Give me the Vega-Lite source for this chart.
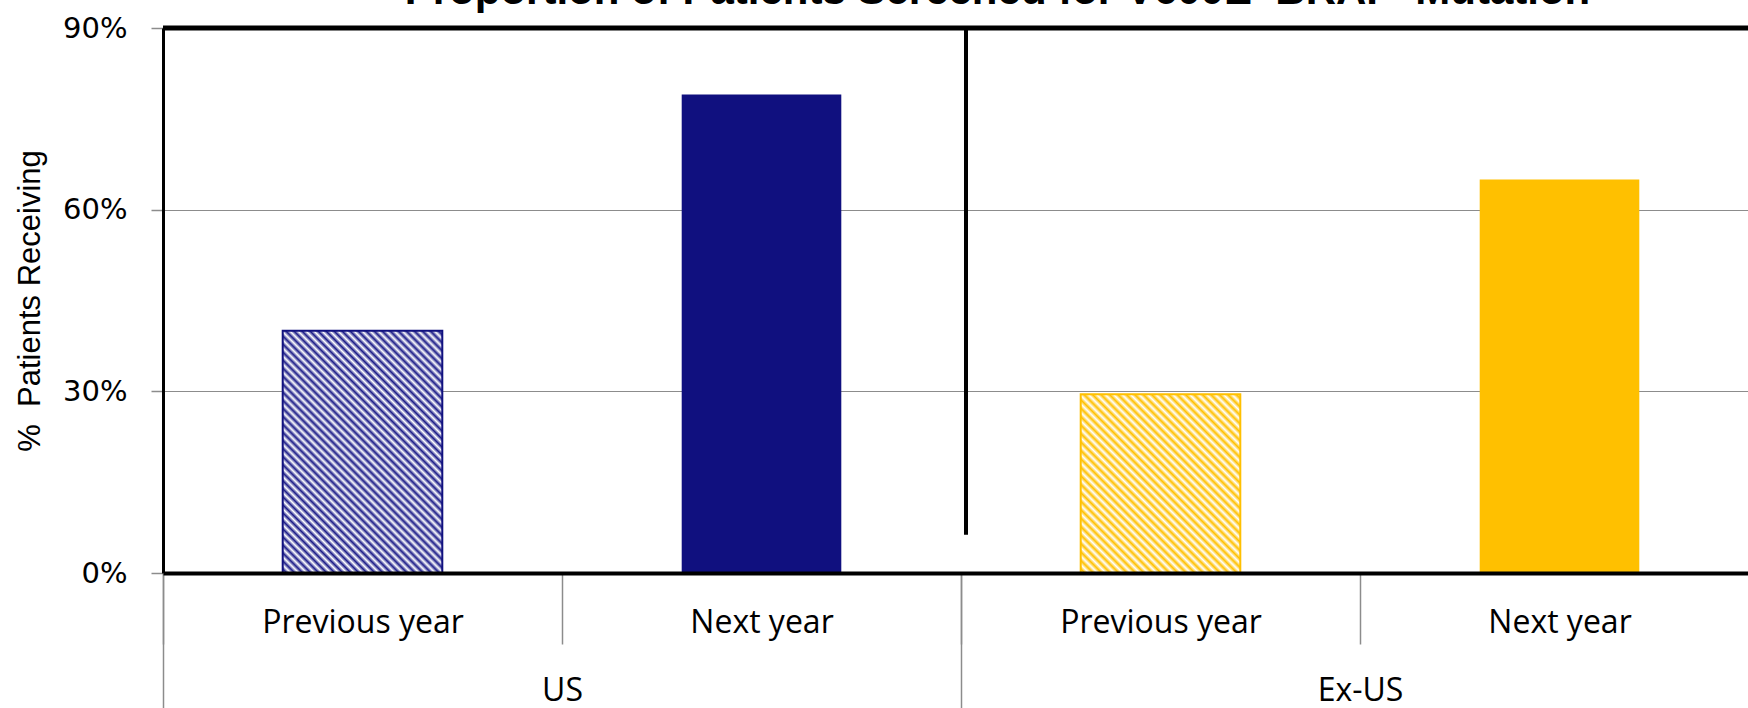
{
  "$schema": "https://vega.github.io/schema/vega-lite/v6.json",
  "autosize": {"type": "none"},
  "padding": {"left": 163, "top": 28, "right": 0, "bottom": 135},
  "width": 1585,
  "height": 545,
  "background": "white",
  "config": {"view": {"stroke": null}},
  "title": {
    "text": "Proportion of Patients Screened for V600E\u00a0 BRAF\u00a0 Mutation",
    "font": "Liberation Sans",
    "fontSize": 42,
    "fontWeight": "bold",
    "color": "black",
    "anchor": "middle",
    "dx": 42,
    "dy": 32,
    "baseline": "alphabetic",
    "offset": 0
  },
  "datasets": {
    "bars": [
      {"key": "US|Previous year", "region": "US", "period": "Previous year", "pct": 0.40},
      {"key": "US|Next year", "region": "US", "period": "Next year", "pct": 0.79},
      {"key": "Ex-US|Previous year", "region": "Ex-US", "period": "Previous year", "pct": 0.295},
      {"key": "Ex-US|Next year", "region": "Ex-US", "period": "Next year", "pct": 0.65}
    ],
    "topline": [{"level": 0.9}],
    "divider": [{"region": "Ex-US", "top": 0.9, "bottom": 0.063}]
  },
  "layer": [
    {
      "layer": [
        {
          "data": {"name": "bars"},
          "transform": [{"filter": "datum.key == 'US|Previous year'"}],
          "mark": {
            "type": "bar",
            "width": {"band": 0.4},
            "stroke": "#10107F",
            "strokeWidth": 2,
            "fill": {
              "gradient": "linear",
              "x1": 0, "y1": 1, "x2": 0.7622, "y2": -0.1567,
              "stops": [
                {"offset": 0, "color": "#ffffff"}, {"offset": 0.01, "color": "#1c1c88"},
                {"offset": 0.02, "color": "#ffffff"}, {"offset": 0.03, "color": "#1c1c88"},
                {"offset": 0.04, "color": "#ffffff"}, {"offset": 0.05, "color": "#1c1c88"},
                {"offset": 0.06, "color": "#ffffff"}, {"offset": 0.07, "color": "#1c1c88"},
                {"offset": 0.08, "color": "#ffffff"}, {"offset": 0.09, "color": "#1c1c88"},
                {"offset": 0.10, "color": "#ffffff"}, {"offset": 0.11, "color": "#1c1c88"},
                {"offset": 0.12, "color": "#ffffff"}, {"offset": 0.13, "color": "#1c1c88"},
                {"offset": 0.14, "color": "#ffffff"}, {"offset": 0.15, "color": "#1c1c88"},
                {"offset": 0.16, "color": "#ffffff"}, {"offset": 0.17, "color": "#1c1c88"},
                {"offset": 0.18, "color": "#ffffff"}, {"offset": 0.19, "color": "#1c1c88"},
                {"offset": 0.20, "color": "#ffffff"}, {"offset": 0.21, "color": "#1c1c88"},
                {"offset": 0.22, "color": "#ffffff"}, {"offset": 0.23, "color": "#1c1c88"},
                {"offset": 0.24, "color": "#ffffff"}, {"offset": 0.25, "color": "#1c1c88"},
                {"offset": 0.26, "color": "#ffffff"}, {"offset": 0.27, "color": "#1c1c88"},
                {"offset": 0.28, "color": "#ffffff"}, {"offset": 0.29, "color": "#1c1c88"},
                {"offset": 0.30, "color": "#ffffff"}, {"offset": 0.31, "color": "#1c1c88"},
                {"offset": 0.32, "color": "#ffffff"}, {"offset": 0.33, "color": "#1c1c88"},
                {"offset": 0.34, "color": "#ffffff"}, {"offset": 0.35, "color": "#1c1c88"},
                {"offset": 0.36, "color": "#ffffff"}, {"offset": 0.37, "color": "#1c1c88"},
                {"offset": 0.38, "color": "#ffffff"}, {"offset": 0.39, "color": "#1c1c88"},
                {"offset": 0.40, "color": "#ffffff"}, {"offset": 0.41, "color": "#1c1c88"},
                {"offset": 0.42, "color": "#ffffff"}, {"offset": 0.43, "color": "#1c1c88"},
                {"offset": 0.44, "color": "#ffffff"}, {"offset": 0.45, "color": "#1c1c88"},
                {"offset": 0.46, "color": "#ffffff"}, {"offset": 0.47, "color": "#1c1c88"},
                {"offset": 0.48, "color": "#ffffff"}, {"offset": 0.49, "color": "#1c1c88"},
                {"offset": 0.50, "color": "#ffffff"}, {"offset": 0.51, "color": "#1c1c88"},
                {"offset": 0.52, "color": "#ffffff"}, {"offset": 0.53, "color": "#1c1c88"},
                {"offset": 0.54, "color": "#ffffff"}, {"offset": 0.55, "color": "#1c1c88"},
                {"offset": 0.56, "color": "#ffffff"}, {"offset": 0.57, "color": "#1c1c88"},
                {"offset": 0.58, "color": "#ffffff"}, {"offset": 0.59, "color": "#1c1c88"},
                {"offset": 0.60, "color": "#ffffff"}, {"offset": 0.61, "color": "#1c1c88"},
                {"offset": 0.62, "color": "#ffffff"}, {"offset": 0.63, "color": "#1c1c88"},
                {"offset": 0.64, "color": "#ffffff"}, {"offset": 0.65, "color": "#1c1c88"},
                {"offset": 0.66, "color": "#ffffff"}, {"offset": 0.67, "color": "#1c1c88"},
                {"offset": 0.68, "color": "#ffffff"}, {"offset": 0.69, "color": "#1c1c88"},
                {"offset": 0.70, "color": "#ffffff"}, {"offset": 0.71, "color": "#1c1c88"},
                {"offset": 0.72, "color": "#ffffff"}, {"offset": 0.73, "color": "#1c1c88"},
                {"offset": 0.74, "color": "#ffffff"}, {"offset": 0.75, "color": "#1c1c88"},
                {"offset": 0.76, "color": "#ffffff"}, {"offset": 0.77, "color": "#1c1c88"},
                {"offset": 0.78, "color": "#ffffff"}, {"offset": 0.79, "color": "#1c1c88"},
                {"offset": 0.80, "color": "#ffffff"}, {"offset": 0.81, "color": "#1c1c88"},
                {"offset": 0.82, "color": "#ffffff"}, {"offset": 0.83, "color": "#1c1c88"},
                {"offset": 0.84, "color": "#ffffff"}, {"offset": 0.85, "color": "#1c1c88"},
                {"offset": 0.86, "color": "#ffffff"}, {"offset": 0.87, "color": "#1c1c88"},
                {"offset": 0.88, "color": "#ffffff"}, {"offset": 0.89, "color": "#1c1c88"},
                {"offset": 0.90, "color": "#ffffff"}, {"offset": 0.91, "color": "#1c1c88"},
                {"offset": 0.92, "color": "#ffffff"}, {"offset": 0.93, "color": "#1c1c88"},
                {"offset": 0.94, "color": "#ffffff"}, {"offset": 0.95, "color": "#1c1c88"},
                {"offset": 0.96, "color": "#ffffff"}, {"offset": 0.97, "color": "#1c1c88"},
                {"offset": 0.98, "color": "#ffffff"}, {"offset": 0.99, "color": "#1c1c88"},
                {"offset": 1, "color": "#ffffff"}
              ]
            }
          },
          "encoding": {
            "x": {
              "field": "key", "type": "nominal",
              "scale": {"domain": ["US|Previous year", "US|Next year", "Ex-US|Previous year", "Ex-US|Next year"], "range": [0, 1596], "paddingInner": 0, "paddingOuter": 0},
              "axis": {
                "orient": "bottom", "title": null, "grid": false, "zindex": 1,
                "labelExpr": "split(datum.label, '|')[1]",
                "labelFont": "Open Sans", "labelFontSize": 32, "labelColor": "black", "labelAngle": 0, "labelPadding": -37, "labelLimit": 0,
                "tickBand": "extent", "tickSize": 71, "tickColor": "#8c8c8c", "tickWidth": 1.5,
                "domainColor": "black", "domainWidth": 4
              }
            },
            "y": {
              "field": "pct", "type": "quantitative",
              "scale": {"domain": [0, 0.9], "nice": false, "zero": true},
              "axis": {
                "orient": "left", "values": [0, 0.3, 0.6, 0.9], "format": ".0%",
                "grid": true, "gridColor": "#8c8c8c", "gridWidth": 1.2,
                "domainColor": "black", "domainWidth": 3,
                "tickColor": "#8c8c8c", "tickSize": 12, "tickWidth": 1.5,
                "labelFont": "DejaVu Sans", "labelFontSize": 29, "labelColor": "black", "labelPadding": 24,
                "title": "%\u00a0 Patients Receiving", "titleFont": "Liberation Sans", "titleFontSize": 31,
                "titleFontWeight": "normal", "titleColor": "black", "titleX": -124, "titleY": 272.5,
                "titleBaseline": "alphabetic", "titleAngle": -90, "titleAlign": "center"
              }
            }
          }
        },
        {
          "data": {"name": "bars"},
          "transform": [{"filter": "datum.key == 'Ex-US|Previous year'"}],
          "mark": {
            "type": "bar",
            "width": {"band": 0.4},
            "stroke": "#FFC000",
            "strokeWidth": 2,
            "fill": {
              "gradient": "linear",
              "x1": 0, "y1": 1, "x2": 0.9408, "y2": -0.0529,
              "stops": [
                {"offset": 0, "color": "#ffffff"}, {"offset": 0.0125, "color": "#FFC000"},
                {"offset": 0.025, "color": "#ffffff"}, {"offset": 0.0375, "color": "#FFC000"},
                {"offset": 0.05, "color": "#ffffff"}, {"offset": 0.0625, "color": "#FFC000"},
                {"offset": 0.075, "color": "#ffffff"}, {"offset": 0.0875, "color": "#FFC000"},
                {"offset": 0.1, "color": "#ffffff"}, {"offset": 0.1125, "color": "#FFC000"},
                {"offset": 0.125, "color": "#ffffff"}, {"offset": 0.1375, "color": "#FFC000"},
                {"offset": 0.15, "color": "#ffffff"}, {"offset": 0.1625, "color": "#FFC000"},
                {"offset": 0.175, "color": "#ffffff"}, {"offset": 0.1875, "color": "#FFC000"},
                {"offset": 0.2, "color": "#ffffff"}, {"offset": 0.2125, "color": "#FFC000"},
                {"offset": 0.225, "color": "#ffffff"}, {"offset": 0.2375, "color": "#FFC000"},
                {"offset": 0.25, "color": "#ffffff"}, {"offset": 0.2625, "color": "#FFC000"},
                {"offset": 0.275, "color": "#ffffff"}, {"offset": 0.2875, "color": "#FFC000"},
                {"offset": 0.3, "color": "#ffffff"}, {"offset": 0.3125, "color": "#FFC000"},
                {"offset": 0.325, "color": "#ffffff"}, {"offset": 0.3375, "color": "#FFC000"},
                {"offset": 0.35, "color": "#ffffff"}, {"offset": 0.3625, "color": "#FFC000"},
                {"offset": 0.375, "color": "#ffffff"}, {"offset": 0.3875, "color": "#FFC000"},
                {"offset": 0.4, "color": "#ffffff"}, {"offset": 0.4125, "color": "#FFC000"},
                {"offset": 0.425, "color": "#ffffff"}, {"offset": 0.4375, "color": "#FFC000"},
                {"offset": 0.45, "color": "#ffffff"}, {"offset": 0.4625, "color": "#FFC000"},
                {"offset": 0.475, "color": "#ffffff"}, {"offset": 0.4875, "color": "#FFC000"},
                {"offset": 0.5, "color": "#ffffff"}, {"offset": 0.5125, "color": "#FFC000"},
                {"offset": 0.525, "color": "#ffffff"}, {"offset": 0.5375, "color": "#FFC000"},
                {"offset": 0.55, "color": "#ffffff"}, {"offset": 0.5625, "color": "#FFC000"},
                {"offset": 0.575, "color": "#ffffff"}, {"offset": 0.5875, "color": "#FFC000"},
                {"offset": 0.6, "color": "#ffffff"}, {"offset": 0.6125, "color": "#FFC000"},
                {"offset": 0.625, "color": "#ffffff"}, {"offset": 0.6375, "color": "#FFC000"},
                {"offset": 0.65, "color": "#ffffff"}, {"offset": 0.6625, "color": "#FFC000"},
                {"offset": 0.675, "color": "#ffffff"}, {"offset": 0.6875, "color": "#FFC000"},
                {"offset": 0.7, "color": "#ffffff"}, {"offset": 0.7125, "color": "#FFC000"},
                {"offset": 0.725, "color": "#ffffff"}, {"offset": 0.7375, "color": "#FFC000"},
                {"offset": 0.75, "color": "#ffffff"}, {"offset": 0.7625, "color": "#FFC000"},
                {"offset": 0.775, "color": "#ffffff"}, {"offset": 0.7875, "color": "#FFC000"},
                {"offset": 0.8, "color": "#ffffff"}, {"offset": 0.8125, "color": "#FFC000"},
                {"offset": 0.825, "color": "#ffffff"}, {"offset": 0.8375, "color": "#FFC000"},
                {"offset": 0.85, "color": "#ffffff"}, {"offset": 0.8625, "color": "#FFC000"},
                {"offset": 0.875, "color": "#ffffff"}, {"offset": 0.8875, "color": "#FFC000"},
                {"offset": 0.9, "color": "#ffffff"}, {"offset": 0.9125, "color": "#FFC000"},
                {"offset": 0.925, "color": "#ffffff"}, {"offset": 0.9375, "color": "#FFC000"},
                {"offset": 0.95, "color": "#ffffff"}, {"offset": 0.9625, "color": "#FFC000"},
                {"offset": 0.975, "color": "#ffffff"}, {"offset": 0.9875, "color": "#FFC000"},
                {"offset": 1, "color": "#ffffff"}
              ]
            }
          },
          "encoding": {
            "x": {
              "field": "key", "type": "nominal",
              "scale": {"domain": ["US|Previous year", "US|Next year", "Ex-US|Previous year", "Ex-US|Next year"], "range": [0, 1596], "paddingInner": 0, "paddingOuter": 0}
            },
            "y": {"field": "pct", "type": "quantitative"}
          }
        },
        {
          "data": {"name": "bars"},
          "transform": [{"filter": "datum.period == 'Next year'"}],
          "mark": {"type": "bar", "width": {"band": 0.4}},
          "encoding": {
            "x": {
              "field": "key", "type": "nominal",
              "scale": {"domain": ["US|Previous year", "US|Next year", "Ex-US|Previous year", "Ex-US|Next year"], "range": [0, 1596], "paddingInner": 0, "paddingOuter": 0}
            },
            "y": {"field": "pct", "type": "quantitative"},
            "color": {
              "field": "region", "type": "nominal",
              "scale": {"domain": ["US", "Ex-US"], "range": ["#10107F", "#FFC000"]},
              "legend": null
            }
          }
        },
        {
          "data": {"name": "topline"},
          "mark": {"type": "rule", "color": "black", "strokeWidth": 5},
          "encoding": {"y": {"field": "level", "type": "quantitative"}}
        }
      ]
    },
    {
      "data": {"name": "divider"},
      "mark": {"type": "rule", "color": "black", "strokeWidth": 4, "xOffset": 5},
      "encoding": {
        "x": {
          "field": "region", "type": "nominal", "bandPosition": 0,
          "scale": {"domain": ["US", "Ex-US"], "range": [0, 1596], "paddingInner": 0, "paddingOuter": 0},
          "axis": {
            "orient": "bottom", "title": null, "grid": false, "domain": false,
            "labelFont": "Open Sans", "labelFontSize": 32, "labelColor": "black", "labelAngle": 0, "labelPadding": -33,
            "tickBand": "extent", "tickSize": 135, "tickColor": "#8c8c8c", "tickWidth": 1.5
          }
        },
        "y": {"field": "top", "type": "quantitative"},
        "y2": {"field": "bottom"}
      }
    }
  ],
  "resolve": {"scale": {"x": "independent"}, "axis": {"x": "independent"}}
}
